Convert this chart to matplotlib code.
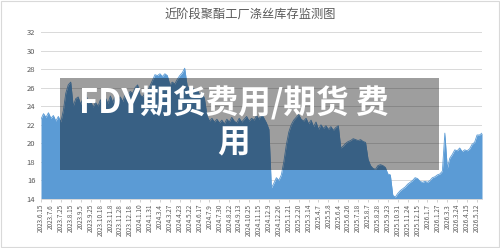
import numpy as np
import matplotlib
matplotlib.use("Agg")
import matplotlib.pyplot as plt
from matplotlib.patches import Rectangle

plt.rcParams['font.family'] = ['Noto Sans CJK SC', 'DejaVu Sans']

# 数据: 涤丝库存(天), 每个刻度区间读 4 个点
inventory = [
    22.6, 23.2, 22.8, 23.3, 22.7, 23.0, 22.4, 22.9, 22.3, 23.5,
    25.4, 26.3, 26.6, 24.0, 24.8, 25.0, 24.2, 24.9, 25.5, 24.3,
    24.6, 23.9, 24.4, 24.0, 24.7, 23.8, 24.9, 24.3, 25.1, 24.4,
    25.2, 24.6, 25.0, 24.5, 25.3, 25.1, 25.6, 25.4, 26.0, 26.3,
    25.2, 25.0, 25.4, 25.6, 26.2, 26.8, 27.4, 27.3, 27.5, 27.2,
    27.5, 27.3, 26.3, 26.6, 26.4, 26.9, 27.3, 27.6, 28.1, 26.2,
    25.8, 26.1, 25.6, 25.9, 25.2, 25.5, 24.8, 23.0, 22.4, 22.7,
    22.3, 22.6, 22.2, 22.5, 22.1, 22.6, 22.3, 22.8, 22.4, 22.2,
    22.7, 22.3, 22.6, 22.9, 22.4, 22.7, 22.5, 23.0, 22.6, 23.2,
    22.7, 22.2, 21.5, 15.2, 15.7, 16.3, 16.0, 16.6, 18.0, 19.8,
    21.2, 22.0, 22.5, 22.8, 23.1, 22.6, 22.4, 22.7, 22.1, 22.5,
    21.8, 22.3, 21.5, 22.0, 21.6, 21.9, 21.5, 21.8, 21.4, 21.7,
    21.9, 19.5, 19.7, 20.0, 20.2, 20.3, 20.5, 20.4, 20.3, 20.4,
    20.2, 20.1, 18.3, 17.6, 17.3, 17.2, 17.6, 17.7, 17.6, 17.4,
    16.7, 16.6, 14.4, 14.2, 14.6, 14.9, 15.1, 15.3, 15.6, 15.8,
    16.0, 16.3, 16.2, 15.9, 15.8, 15.9, 15.8, 16.0, 16.3, 16.4,
    16.6, 16.7, 17.0, 21.1, 17.3, 18.4, 18.8, 19.3, 19.2, 19.5,
    19.1, 19.3, 19.2, 19.4, 19.9, 20.1, 20.9, 20.9, 21.1,
]

date_labels = [
    "2023.6.15", "2023.7.6", "2023.7.25", "2023.8.15", "2023.9.5", "2023.9.25",
    "2023.10.18", "2023.11.8", "2023.11.28", "2023.12.18", "2024.1.10", "2024.1.31",
    "2024.3.4", "2024.3.27", "2024.4.23", "2024.5.22", "2024.6.17", "2024.7.9",
    "2024.7.30", "2024.8.22", "2024.9.13", "2024.10.25", "2024.11.15", "2024.12.9",
    "2024.12.26", "2025.1.21", "2025.2.20", "2025.3.14", "2025.4.7", "2025.5.8",
    "2025.6.4", "2025.6.26", "2025.7.18", "2025.8.7", "2025.8.28", "2025.9.23",
    "2025.10.31", "2025.11.24", "2025.12.15", "2026.1.7", "2026.1.27", "2026.3.3",
    "2026.3.24", "2026.4.15", "2026.5.12",
]
points_per_label = 4

yticks = [14, 16, 18, 20, 22, 24, 26, 28, 30, 32]

title = "近阶段聚酯工厂涤丝库存监测图"
overlay_line1 = "FDY期货费用/期货 费"
overlay_line2 = "用"


def main():
    fig = plt.figure(figsize=(5.0, 2.48), dpi=100)
    ax = fig.add_axes([0.082, 0.1976, 0.882, 0.6734])

    x = np.arange(len(inventory))
    y = np.array(inventory)
    ax.fill_between(x, 14, y, color='#5b9bd5', linewidth=0, zorder=2)
    ax.plot(x, y, color='#5b9bd5', linewidth=0.6, zorder=2)

    ax.set_xlim(0, len(inventory) - 1)
    ax.set_ylim(14, 32)
    ax.set_yticks(yticks)
    ax.set_yticklabels([str(v) for v in yticks], fontsize=5.5, color='#595959')
    ax.yaxis.grid(True, color='#d9d9d9', linewidth=0.7, zorder=0)
    ax.set_axisbelow(True)

    tick_pos = np.arange(len(date_labels)) * points_per_label
    ax.set_xticks(tick_pos)
    ax.set_xticklabels(date_labels, rotation=90, fontsize=4.6, color='#595959')
    ax.tick_params(axis='x', length=2, width=0.5, color='#bfbfbf', pad=1.5)
    ax.tick_params(axis='y', length=0, pad=4)

    for side in ['top', 'right', 'left']:
        ax.spines[side].set_visible(False)
    ax.spines['bottom'].set_color('#d9d9d9')
    ax.spines['bottom'].set_linewidth(0.7)

    fig.text(0.5, 1 - 15 / 248, title, ha='center', va='center',
             fontsize=8.8, color='#595959')

    # 图表外框
    fig.patches.append(Rectangle((0.002, 0.004), 0.996, 0.992, transform=fig.transFigure,
                                 fill=False, edgecolor='#d9d9d9', linewidth=0.8))

    # 半透明遮罩 + 文字
    fig.patches.append(Rectangle((60 / 500, 1 - 170 / 248), 379 / 500, 92 / 248,
                                 transform=fig.transFigure, facecolor='black',
                                 alpha=0.38, edgecolor='none', zorder=5))
    fig.text(234 / 500, 1 - 103 / 248, overlay_line1, ha='center', va='center',
             fontsize=23.5, color='white', fontweight='bold', zorder=6)
    fig.text(234 / 500, 1 - 143 / 248, overlay_line2, ha='center', va='center',
             fontsize=23.5, color='white', fontweight='bold', zorder=6)

    fig.savefig("out.png", dpi=100)
    plt.close(fig)


if __name__ == "__main__":
    main()
